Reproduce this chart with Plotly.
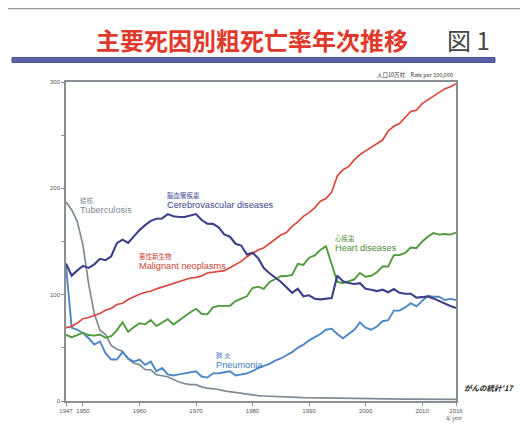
import plotly.graph_objects as go

years = list(range(1947, 2017))

malignant = [69.0, 70.2, 73.3, 77.4, 78.5, 80.7, 82.2, 85.3, 87.1, 90.8,
             91.9, 95.5, 98.2, 100.4, 102.3, 103.2, 105.5, 107.2, 108.4, 110.8,
             111.9, 113.9, 115.7, 116.3, 117.7, 120.4, 121.2, 122.2, 122.6, 125.3,
             128.4, 131.3, 135.7, 139.1, 142.0, 144.2, 148.3, 152.5, 156.1, 158.5,
             164.2, 168.4, 173.6, 177.2, 181.7, 187.8, 190.4, 196.4, 211.6, 217.5,
             220.4, 226.7, 231.6, 235.2, 238.8, 241.7, 245.4, 253.9, 258.3, 261.0,
             266.9, 272.3, 273.5, 279.7, 283.2, 286.6, 290.3, 293.5, 295.5, 298.3]

cerebro = [129.4, 117.9, 122.8, 127.1, 125.2, 128.5, 133.7, 132.4, 136.1, 148.4,
           151.7, 148.6, 154.8, 160.7, 165.4, 169.4, 171.4, 171.7, 175.8, 173.8,
           173.1, 173.1, 174.4, 175.8, 170.2, 166.7, 166.6, 163.3, 156.7, 154.5,
           147.9, 146.2, 137.7, 139.5, 134.3, 125.0, 120.1, 116.4, 112.2, 106.9,
           101.7, 105.5, 98.5, 99.4, 96.2, 95.6, 96.0, 96.9, 117.9, 112.6,
           111.0, 110.0, 110.8, 105.5, 104.7, 103.4, 104.7, 102.3, 105.3, 101.7,
           100.8, 100.9, 97.2, 97.7, 98.2, 96.5, 94.1, 91.1, 89.4, 87.4]

heart = [62.2, 60.0, 62.0, 64.2, 62.0, 61.5, 62.5, 59.5, 60.9, 66.5,
         74.0, 65.0, 69.5, 73.2, 72.1, 76.2, 70.4, 73.7, 77.0, 71.9,
         75.7, 80.2, 83.5, 86.7, 82.0, 81.5, 88.0, 89.5, 89.2, 89.5,
         94.0, 96.5, 98.5, 106.2, 107.5, 105.5, 112.0, 114.5, 117.3, 117.5,
         118.5, 129.0, 128.0, 134.8, 137.0, 142.0, 145.6, 128.6, 112.0, 110.8,
         112.2, 114.3, 120.4, 116.8, 117.8, 121.0, 126.5, 126.5, 137.2, 137.2,
         139.2, 144.4, 143.7, 149.8, 154.5, 157.9, 156.5, 157.0, 156.5, 158.4]

pneumonia = [127, 69, 67, 64, 59, 53, 56, 45, 39, 39,
             46, 40, 37, 39, 34, 37, 28, 31, 25, 24,
             25, 26, 27, 28, 23, 22, 26, 26, 27, 28,
             24, 25, 26, 28, 31, 33, 35, 38, 40, 43,
             46, 50, 53, 57, 60, 63, 67, 68, 63, 59,
             63, 67, 74, 69, 67, 70, 75, 76, 85, 85,
             88, 92, 89, 94, 99, 98, 98, 95, 96, 95]

tuberculosis = [187.2, 179.9, 168.8, 146.4, 110.3, 82.2, 66.5, 62.4, 52.3, 48.6,
                46.9, 39.5, 35.5, 34.2, 29.6, 29.3, 24.7, 23.6, 22.8, 20.3,
                17.8, 16.3, 15.4, 15.4, 13.3, 12.1, 11.6, 10.8, 9.5, 8.7,
                7.5, 7.0, 6.1, 5.5, 5.0, 4.7, 4.6, 4.5, 3.9, 3.8,
                3.6, 3.4, 3.1, 3.0, 2.8, 2.8, 2.7, 2.6, 2.6, 2.3,
                2.2, 2.2, 2.3, 2.1, 2.0, 1.8, 1.9, 1.8, 1.8, 1.7,
                1.7, 1.8, 1.7, 1.7, 1.7, 1.7, 1.7, 1.7, 1.5, 1.5]

x_tickvals = [1947, 1950, 1960, 1970, 1980, 1990, 2000, 2010, 2016]
x_ticktext = ["1947", "1950", "1960", "1970", "1980", "1990", "2000", "2010", "2016"]
y_tickvals = [0, 50, 100, 150, 200, 250, 300]
y_ticktext = ["0", "", "100", "", "200", "", "300"]

JP = "Noto Sans CJK JP"

fig = go.Figure()
series = [
    (tuberculosis, "#7f8b94", 1.7),
    (pneumonia, "#4d86c6", 1.9),
    (heart, "#4f9a3c", 1.9),
    (malignant, "#d9483c", 1.7),
    (cerebro, "#3c4087", 2.1),
]
for vals, col, w in series:
    fig.add_trace(go.Scatter(x=years, y=vals, mode="lines",
                             line=dict(color=col, width=w), hoverinfo="skip"))

labels = [
    (1949.1, 189, "結核", "Tuberculosis", "#7f8b94"),
    (1964.5, 194, "脳血管疾患", "Cerebrovascular diseases", "#3c4590"),
    (1959.5, 136, "悪性新生物", "Malignant neoplasms", "#c9412f"),
    (1994.3, 153, "心疾患", "Heart diseases", "#4f8f3a"),
    (1973.1, 43, "肺 炎", "Pneumonia", "#3f7cc2"),
]
ann = []
for x, y, jp, en, col in labels:
    ann.append(dict(x=x, y=y, xref="x", yref="y", text=jp, showarrow=False,
                    xanchor="left", yanchor="middle",
                    font=dict(family=JP, size=6.5, color=col)))
    ann.append(dict(x=x, y=y - 9.5, xref="x", yref="y", text=en, showarrow=False,
                    xanchor="left", yanchor="middle",
                    font=dict(family="Liberation Sans", size=9.2, color=col)))

# page pixel -> paper coordinates (plot area spans x 66..456, y 82.5..401 on the page)
def py(p):
    return (401 - p) / 318.5

def px(p):
    return (p - 66) / 390

ann += [
    dict(x=px(252), y=py(40), xref="paper", yref="paper", text="<b>主要死因別粗死亡率年次推移</b>",
         showarrow=False, xanchor="center", yanchor="middle",
         font=dict(family=JP, size=24, color="#e0392b")),
    dict(x=px(445), y=py(40), xref="paper", yref="paper", text="図 1",
         showarrow=False, xanchor="left", yanchor="middle",
         font=dict(family=JP, size=24, color="#444444")),
    dict(x=px(455), y=py(76), xref="paper", yref="paper", text="人口10万対　Rate per 100,000",
         showarrow=False, xanchor="right", yanchor="middle",
         font=dict(family=JP, size=5.5, color="#333333")),
    dict(x=px(462), y=py(388), xref="paper", yref="paper", text="<b><i>がんの統計'17</i></b>",
         showarrow=False, xanchor="left", yanchor="middle",
         font=dict(family=JP, size=7.5, color="#222222")),
    dict(x=px(454), y=py(418), xref="paper", yref="paper", text="年 year",
         showarrow=False, xanchor="center", yanchor="middle",
         font=dict(family=JP, size=5, color="#555555")),
]

shapes = [
    dict(type="line", xref="paper", yref="paper", x0=px(-5), x1=px(535), y0=py(9), y1=py(9),
         line=dict(color="#9a9a9a", width=1.5)),
    dict(type="rect", xref="paper", yref="paper", x0=px(12), x1=px(495), y0=py(63), y1=py(58),
         fillcolor="#5c60aa", line=dict(color="#3a3d78", width=0.8)),
]

fig.update_layout(
    width=520, height=420,
    margin=dict(l=58, r=72, t=74, b=27),
    paper_bgcolor="white", plot_bgcolor="white",
    showlegend=False,
    annotations=ann, shapes=shapes,
    xaxis=dict(range=[1947, 2016], tickvals=x_tickvals, ticktext=x_ticktext,
               showgrid=False, zeroline=False, showline=True, mirror=True,
               linecolor="#8a8f94", linewidth=1.5, ticks="outside", ticklen=3,
               tickcolor="#8a8f94", tickfont=dict(family="Liberation Sans", size=6, color="#555555")),
    yaxis=dict(range=[0, 300], tickvals=y_tickvals, ticktext=y_ticktext,
               showgrid=False, zeroline=False, showline=True, mirror=True,
               linecolor="#8a8f94", linewidth=1.5, ticks="outside", ticklen=3,
               tickcolor="#8a8f94", tickfont=dict(family="Liberation Sans", size=6, color="#555555")),
)

fig.write_html("out.html")
